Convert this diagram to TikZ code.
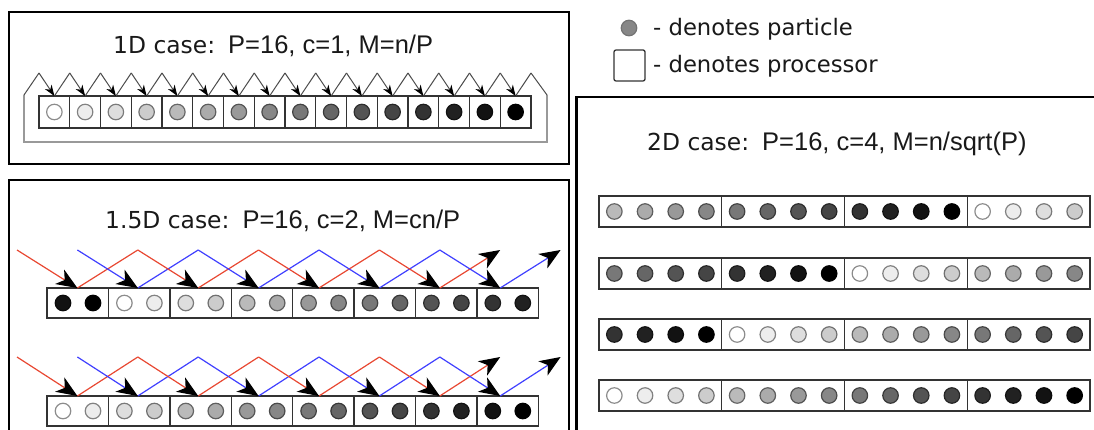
\documentclass[tikz,border=0pt]{standalone}
\usepackage{fontspec}
\newfontfamily\dejavu{DejaVu Sans}
\newfontfamily\arialf{Liberation Sans}
\usetikzlibrary{arrows.meta}
\definecolor{zred}{RGB}{232,72,50}
\definecolor{zblue}{RGB}{64,64,255}
\newcommand\mypart[4]{%
  \pgfmathtruncatemacro\pfl{round(#4*100/15)}%
  \pgfmathtruncatemacro\pdr{round(45+#4*55/15)}%
  \node[part, fill=black!\pfl, draw=black!\pdr] (#1) at (#2,#3) {};}
\begin{document}
\begin{tikzpicture}[x=1pt,y=-1pt,
  casebox/.style={draw=black, line width=2.5pt, rectangle, inner sep=0, outer sep=0, anchor=north west},
  proc/.style={draw=black!80, line width=1.4pt, rectangle, inner sep=0, outer sep=0},
  part/.style={circle, inner sep=0, minimum size=15.5pt, line width=1.2pt},
  ttl/.style={anchor=base west, inner sep=0, text=black!90},
  zig/.style={draw=black!70, line width=1pt},
  smallhead/.style={-{Stealth[length=11pt,width=8pt,inset=3.5pt,color=black]}},
  fr/.style={draw=black!40, line width=1.1pt},
  rl/.style={draw=zred, line width=1.2pt},
  bl/.style={draw=zblue, line width=1.2pt},
  bighead/.style={-{Stealth[length=21pt,width=17pt,inset=6pt,color=black]}}
]
\useasboundingbox (0,0) rectangle (1094,430);
\clip (0,0) rectangle (1094,430);

% ---------- outer case boxes ----------
\node[casebox, minimum width=560pt, minimum height=152pt] (box1d) at (9,12) {};
\node[casebox, minimum width=560pt, minimum height=280pt] (box15d) at (9,180) {};
\node[casebox, minimum width=540pt, minimum height=360pt] (box2d) at (576.5,97) {};

% ---------- titles ----------
\node[ttl] (t1) at (113,54) {\dejavu\fontsize{23.4}{28}\selectfont 1D case:\hspace{13pt}\arialf\fontsize{25.5}{30}\selectfont P=16, c=1, M=n/P};
\node[ttl] (t15) at (105,229) {\dejavu\fontsize{23.4}{28}\selectfont 1.5D case:\hspace{13pt}\arialf\fontsize{25.5}{30}\selectfont P=16, c=2, M=cn/P};
\node[ttl] (t2) at (647,151) {\dejavu\fontsize{23.4}{28}\selectfont 2D case:\hspace{13pt}\arialf\fontsize{25.5}{30}\selectfont P=16, c=4, M=n/sqrt(P)};

% ---------- legend ----------
\node[part, fill=black!47, draw=black!55] (lp) at (629,28) {};
\node[ttl] (lpt) at (653,36) {\dejavu\fontsize{22.7}{27}\selectfont - denotes particle};
\node[draw=black!80, line width=1.3pt, rounded corners=2pt, minimum width=31pt, minimum height=31pt, inner sep=0] (lq) at (629.5,65.5) {};
\node[ttl] (lqt) at (653,73) {\dejavu\fontsize{22.7}{27}\selectfont - denotes processor};

% ---------- 1D case ----------
\foreach \i in {0,...,15} {
  \pgfmathsetmacro\cx{39+30.75*(\i+0.5)}
  \node[proc, minimum width=30.75pt, minimum height=32pt] (p1-\i) at (\cx,112) {};
  \mypart{c1-\i}{\cx}{112}{\i}
}
\foreach \i in {0,...,16} {
  \coordinate (a\i) at (39+30.75*\i,73);
}
\coordinate (f0) at (24,95);
\coordinate (f1) at (547,95);
\coordinate (f2) at (547,142);
\coordinate (f3) at (24,142);
\draw[fr] (f1) -- (f2) -- (f3) -- (f0);
\draw[zig] (f0) -- (a0);
\draw[zig] (a16) -- (f1);
\foreach \i [evaluate=\i as \j using int(\i+1)] in {0,...,15} {
  \draw[zig] (p1-\i.north) -- (a\j);
  \draw[zig, smallhead] (a\i) -- (p1-\i.north);
}

% ---------- 1.5D case ----------
\foreach \r/\T/\B/\off in {a/250/288/14, b/357/396/0} {
  \foreach \b in {0,...,7} {
    \pgfmathsetmacro\bx{47+61.4*(\b+0.5)}
    \node[proc, minimum width=61.4pt, minimum height=30pt] (q\r-\b) at (\bx,\B+15) {};
    \foreach \j in {0,1} {
      \pgfmathtruncatemacro\kk{mod(2*\b+\j+\off,16)}
      \pgfmathsetmacro\px{47+61.4*\b+16+30*\j}
      \mypart{m\r-\b-\j}{\px}{\B+15}{\kk}
    }
  }
  \foreach \k in {0,...,9} {
    \coordinate (z\r-\k) at (17+60.4*\k,\T);
    \coordinate (w\r-\k) at (17+60.4*\k,\B);
  }
  % red path
  \draw[rl] (w\r-1) -- (z\r-2);
  \draw[rl] (w\r-3) -- (z\r-4);
  \draw[rl] (w\r-5) -- (z\r-6);
  % blue path
  \draw[bl] (w\r-2) -- (z\r-3);
  \draw[bl] (w\r-4) -- (z\r-5);
  \draw[bl] (w\r-6) -- (z\r-7);
  % arrowed segments
  \draw[rl, bighead] (z\r-0) -- (w\r-1);
  \draw[rl, bighead] (z\r-2) -- (w\r-3);
  \draw[rl, bighead] (z\r-4) -- (w\r-5);
  \draw[rl, bighead] (z\r-6) -- (w\r-7);
  \draw[rl, bighead] (w\r-7) -- (z\r-8);
  \draw[bl, bighead] (z\r-1) -- (w\r-2);
  \draw[bl, bighead] (z\r-3) -- (w\r-4);
  \draw[bl, bighead] (z\r-5) -- (w\r-6);
  \draw[bl, bighead] (z\r-7) -- (w\r-8);
  \draw[bl, bighead] (w\r-8) -- (z\r-9);
}

% ---------- 2D case ----------
\foreach \y/\off [count=\ri] in {196/4, 258/8, 319/12, 380/0} {
  \foreach \b in {0,...,3} {
    \pgfmathsetmacro\bx{599+122.75*(\b+0.5)}
    \node[proc, minimum width=122.75pt, minimum height=31pt] (s\ri-\b) at (\bx,\y+15.5) {};
    \foreach \j in {0,...,3} {
      \pgfmathtruncatemacro\kk{mod(4*\b+\j+\off,16)}
      \pgfmathsetmacro\px{599+122.75*\b+15.35+30.69*\j}
      \mypart{n\ri-\b-\j}{\px}{\y+15.5}{\kk}
    }
  }
}
\end{tikzpicture}
\end{document}
